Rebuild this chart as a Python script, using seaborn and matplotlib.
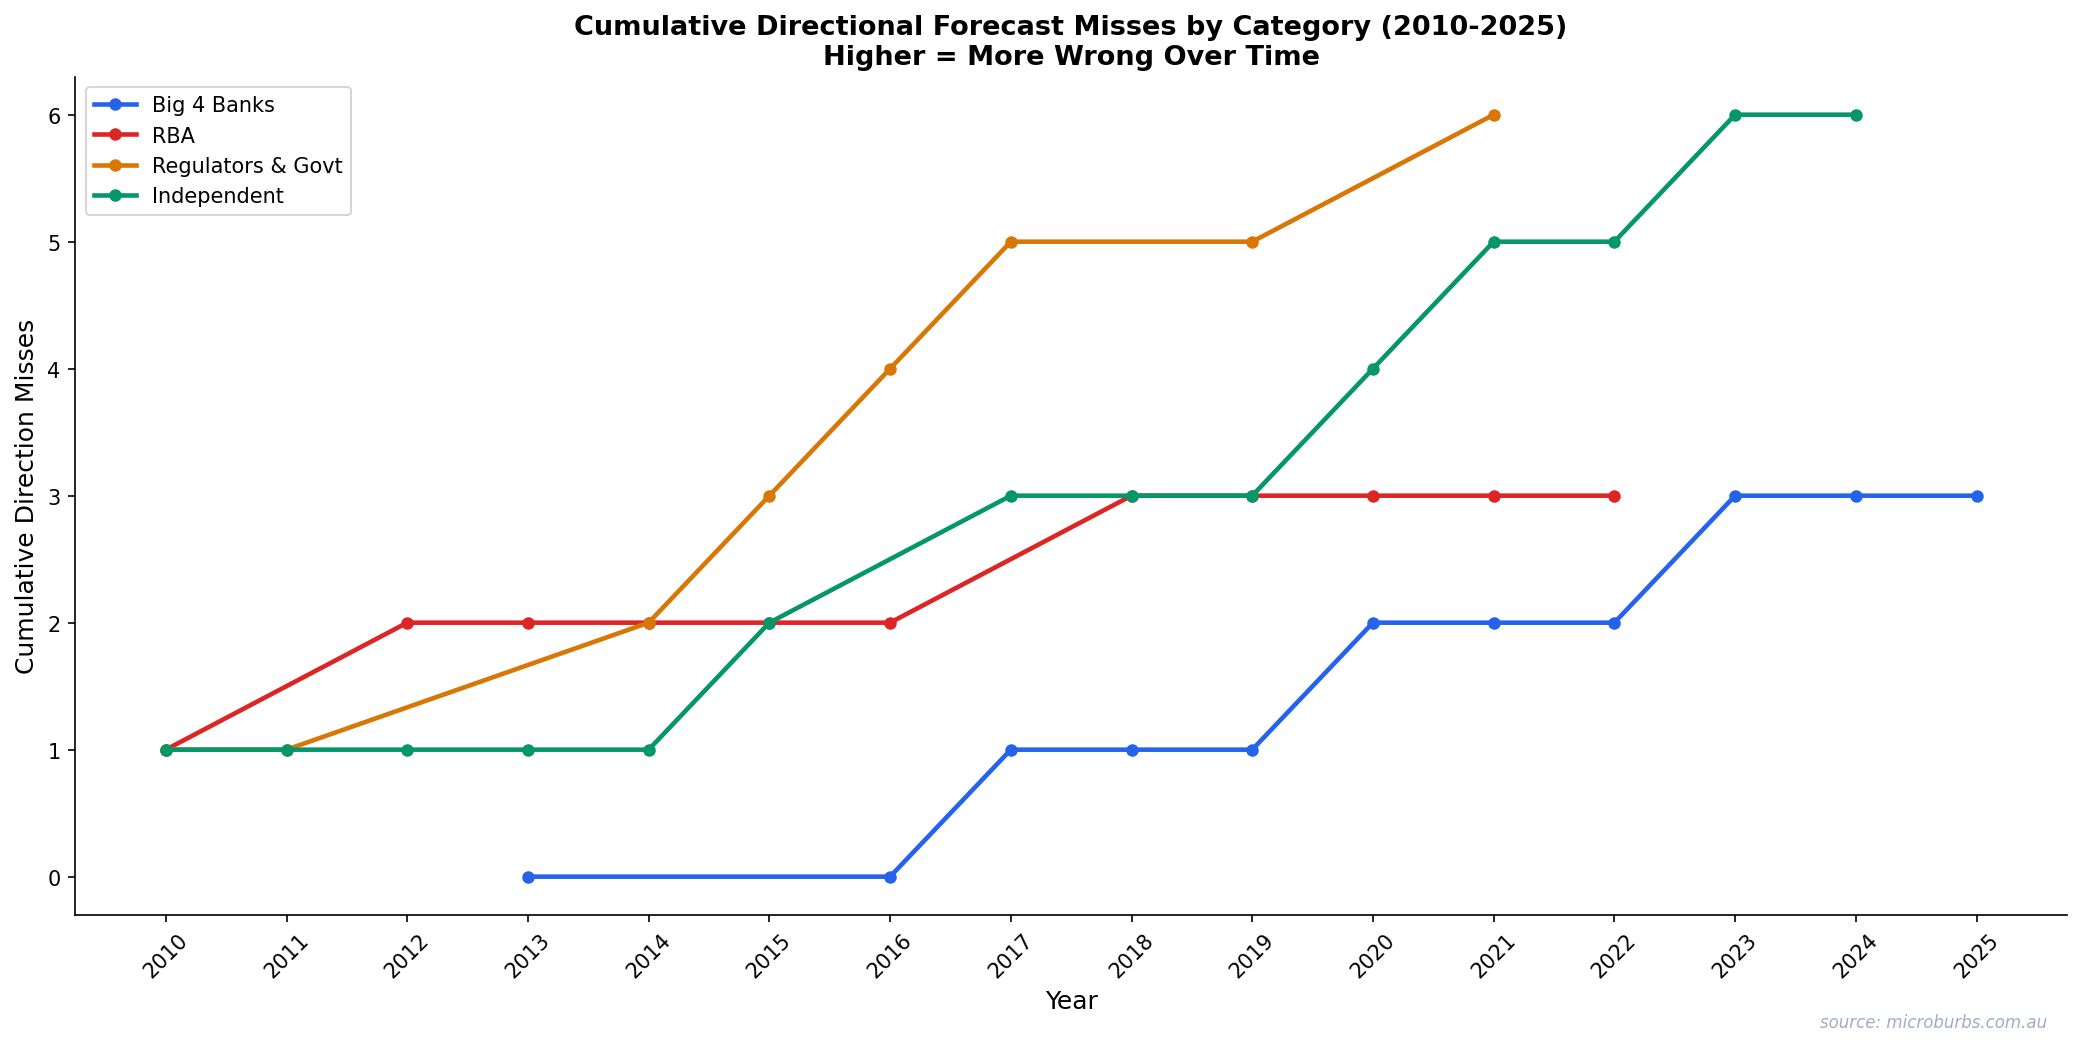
import matplotlib.pyplot as plt
import seaborn as sns
import pandas as pd

# данные: год -> накопленное число промахов по направлению
big4_years = [2013, 2016, 2017, 2018, 2019, 2020, 2021, 2022, 2023, 2024, 2025]
big4_misses = [0, 0, 1, 1, 1, 2, 2, 2, 3, 3, 3]

rba_years = [2010, 2012, 2013, 2014, 2015, 2016, 2018, 2019, 2020, 2021, 2022]
rba_misses = [1, 2, 2, 2, 2, 2, 3, 3, 3, 3, 3]

reg_years = [2010, 2011, 2014, 2015, 2016, 2017, 2019, 2021]
reg_misses = [1, 1, 2, 3, 4, 5, 5, 6]

ind_years = [2010, 2011, 2012, 2013, 2014, 2015, 2017, 2018, 2019, 2020, 2021, 2022, 2023, 2024]
ind_misses = [1, 1, 1, 1, 1, 2, 3, 3, 3, 4, 5, 5, 6, 6]

categories = ['Big 4 Banks', 'RBA', 'Regulators & Govt', 'Independent']
colors = ['#2563eb', '#dc2626', '#d97706', '#059669']
all_years = list(range(2010, 2026))

frames = []
for name, yrs, vals in zip(categories,
                           [big4_years, rba_years, reg_years, ind_years],
                           [big4_misses, rba_misses, reg_misses, ind_misses]):
    frames.append(pd.DataFrame({'Year': yrs, 'Misses': vals, 'Category': name}))
df = pd.concat(frames, ignore_index=True)

# стиль matplotlib по умолчанию (чёрный текст), без сетки
plt.rcParams['font.family'] = ['DejaVu Sans']

fig, ax = plt.subplots(figsize=(14, 7))
sns.lineplot(data=df, x='Year', y='Misses', hue='Category', hue_order=categories,
             palette=colors, marker='o', markersize=6, markeredgewidth=0,
             linewidth=2.2, ax=ax)

ax.set_title('Cumulative Directional Forecast Misses by Category (2010-2025)\nHigher = More Wrong Over Time',
             fontsize=13, fontweight='bold')
ax.set_xlabel('Year', fontsize=12)
ax.set_ylabel('Cumulative Direction Misses', fontsize=12)
ax.set_xticks(all_years)
ax.set_xticklabels([str(y) for y in all_years], rotation=45)
ax.legend(title=None, loc='upper left', fontsize=10)
sns.despine(ax=ax)

fig.text(0.98, 0.008, 'source: microburbs.com.au', ha='right', va='bottom',
         fontsize=8, style='italic', color='#a0aec0')

plt.tight_layout()
plt.savefig('out.png', dpi=150, bbox_inches='tight')
plt.close()
